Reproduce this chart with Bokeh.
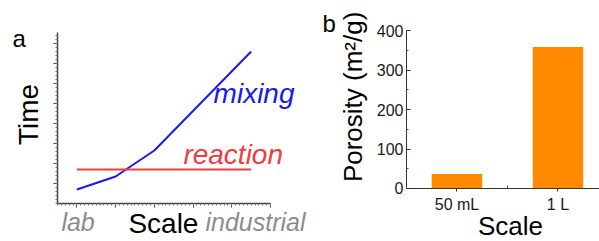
import math
from bokeh.plotting import figure
from bokeh.layouts import row
from bokeh.models import Label, FixedTicker, Range1d, ColumnDataSource
from bokeh.embed import file_html
from bokeh.resources import INLINE

# ---- data panel a (schematic) ----
scale_pos = [1, 2, 3, 5.5]
mixing_time = [0.7, 1.35, 2.65, 7.6]
reaction_x = [1, 5.5]
reaction_time = [1.7, 1.7]

# ---- data panel b ----
categories = ["50 mL", "1 L"]
cat_pos = [0.5, 1.5]
porosity = [37, 358]

FONT = "Liberation Sans"


def lab(p, txt, x, y, size, color="black", style="normal", align="left",
        baseline="alphabetic", angle=0):
    p.add_layout(Label(x=x, y=y, text=txt, text_font=FONT, text_font_size=size,
                       text_color=color, text_font_style=style, text_align=align,
                       text_baseline=baseline, angle=angle))


# ---------------- panel a ----------------
pa = figure(width=320, height=241, output_backend="svg", toolbar_location=None,
            x_range=Range1d(-0.972, 7.29), y_range=Range1d(-1.9, 10.15),
            min_border=0, min_border_left=0, min_border_right=0,
            min_border_top=0, min_border_bottom=0)
pa.outline_line_color = None
pa.xgrid.visible = False
pa.ygrid.visible = False
pa.xaxis.fixed_location = 0
pa.yaxis.fixed_location = 0.5
pa.xaxis.bounds = (0.5, 6.0)
pa.yaxis.bounds = (0, 8.55)
pa.xaxis.ticker = FixedTicker(ticks=[1, 2, 3, 4, 5, 6],
                              minor_ticks=[i / 10 for i in range(5, 61)])
pa.yaxis.ticker = FixedTicker(ticks=[1, 2, 3, 4, 5, 6, 7, 8],
                              minor_ticks=[i / 5 for i in range(0, 43)])
for ax in (pa.xaxis[0], pa.yaxis[0]):
    ax.major_label_text_font_size = "0px"
    ax.major_label_text_color = None
    ax.major_tick_out = 4
    ax.major_tick_in = 0
    ax.minor_tick_out = 2
    ax.minor_tick_in = 0
    ax.axis_line_color = "#444444"
    ax.major_tick_line_color = "#444444"
    ax.minor_tick_line_color = "#777777"
    ax.axis_line_width = 1.5

pa.line(scale_pos, mixing_time, line_color="#1a1aee", line_width=2)
pa.line(reaction_x, reaction_time, line_color="#f03c3c", line_width=2)

lab(pa, "mixing", 4.53, 5.5, "28px", "#1a1aee", "italic")
lab(pa, "reaction", 3.75, 2.45, "28px", "#f03c3c", "italic")
lab(pa, "lab", 0.6, -0.9, "25px", "#8c8c8c", "italic")
lab(pa, "industrial", 4.32, -0.9, "25px", "#8c8c8c", "italic")
lab(pa, "Scale", 2.33, -1.0, "28px")
lab(pa, "a", -0.66, 8.25, "24px")
lab(pa, "Time", -0.248, 4.45, "28px", align="center", angle=math.pi / 2)

# ---------------- panel b ----------------
pb = figure(width=279, height=241, output_backend="svg", toolbar_location=None,
            x_range=Range1d(-0.851, 1.911), y_range=Range1d(-134.2, 476),
            min_border=0, min_border_left=0, min_border_right=0,
            min_border_top=0, min_border_bottom=0)
pb.outline_line_color = None
pb.xgrid.visible = False
pb.ygrid.visible = False
src = ColumnDataSource(dict(x=cat_pos, top=porosity))
pb.vbar(x="x", top="top", width=0.5, bottom=0, source=src,
        fill_color="#ff8a00", line_color=None)

pb.xaxis.fixed_location = 0
pb.yaxis.fixed_location = 0
pb.xaxis.bounds = (0, 1.911)
pb.yaxis.bounds = (0, 400)
pb.yaxis.ticker = FixedTicker(ticks=[0, 100, 200, 300, 400],
                              minor_ticks=[50, 150, 250, 350])
pb.xaxis.ticker = FixedTicker(ticks=cat_pos, minor_ticks=[1.0])
pb.xaxis.major_label_overrides = {cat_pos[i]: categories[i] for i in range(len(categories))}
for ax in (pb.xaxis[0], pb.yaxis[0]):
    ax.major_label_text_font = FONT
    ax.major_label_text_font_size = "16px"
    ax.major_label_text_color = "#1a1a1a"
    ax.axis_line_color = "#333333"
    ax.major_tick_line_color = "#333333"
    ax.minor_tick_line_color = "#555555"
pb.yaxis.major_tick_in = 4
pb.yaxis.major_tick_out = 0
pb.yaxis.minor_tick_in = 2
pb.yaxis.minor_tick_out = 0
pb.yaxis.major_label_standoff = 3
pb.xaxis.major_tick_in = 0
pb.xaxis.major_tick_out = 3
pb.xaxis.minor_tick_in = 3
pb.xaxis.minor_tick_out = 0
pb.xaxis.major_label_standoff = 5

lab(pb, "b", -0.83, 418, "24px")
lab(pb, "Scale", 1.03, -95, "26px", align="center")
lab(pb, "Porosity (m²/g)", -0.525, 232, "26px", align="center", angle=math.pi / 2)

layout = row(pa, pb)
open("out.html", "w").write(file_html(layout, INLINE))
